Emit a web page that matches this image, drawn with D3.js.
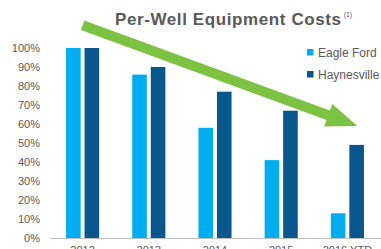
<!DOCTYPE html>
<head>
<title>Per-Well Equipment Costs</title>
  <style>
  body { margin: 0; background: #fff; }
  text { font-family: "Liberation Sans", Arial, sans-serif; }
  </style>
</head>
<body>
  <script src="https://cdn.jsdelivr.net/npm/d3@7/dist/d3.min.js"></script>
  <script>

    // data (percent of 2012 cost)
    var years = ["2012", "2013", "2014", "2015", "2016 YTD"];
    var series = ["Eagle Ford", "Haynesville"];
    var eagleFord = [100, 86, 58, 41, 13];
    var haynesville = [100, 90, 77, 67, 49];
    var yTicks = [0, 10, 20, 30, 40, 50, 60, 70, 80, 90, 100];
    var colors = ["#00aeef", "#0a578e"];

    var width = 381, height = 249;

    var svg = d3.select("body").append("svg")
                .attr("width", width)
                .attr("height", height);

    // scales
    var x0 = d3.scaleBand().domain(years).range([49.5, 380.5])
               .paddingInner(0.5).paddingOuter(0.25);
    var x1 = d3.scaleBand().domain(series).range([0, x0.bandwidth()])
               .paddingInner(0.21);
    var y = d3.scaleLinear().domain([0, 100]).range([238, 48]);

    var rows = years.map(function(yr, i) {
      return {year: yr, values: [eagleFord[i], haynesville[i]]};
    });

    // bars
    var groups = svg.selectAll(".group")
       .data(rows)
       .enter().append("g")
       .attr("class", "group")
       .attr("transform", function(d) { return "translate(" + x0(d.year) + ",0)"; });

    groups.selectAll("rect")
       .data(function(d) { return d.values.map(function(v, j) { return {s: series[j], v: v, j: j}; }); })
       .enter().append("rect")
       .attr("x", function(d) { return x1(d.s); })
       .attr("width", x1.bandwidth())
       .attr("y", function(d) { return y(d.v); })
       .attr("height", function(d) { return y(0) - y(d.v); })
       .attr("fill", function(d) { return colors[d.j]; });

    // y axis
    var yAxis = svg.append("g")
       .attr("transform", "translate(43,0)")
       .call(d3.axisLeft(y).tickValues(yTicks).tickSize(0).tickPadding(3)
               .tickFormat(function(d) { return d + "%"; }));
    yAxis.select(".domain").remove();
    yAxis.selectAll("text").style("font-size", "11px").attr("fill", "#595959")
         .style("font-family", "Liberation Sans, Arial, sans-serif");

    // x axis
    var xAxis = svg.append("g")
       .attr("transform", "translate(0," + y(0) + ")")
       .call(d3.axisBottom(x0).tickSize(0).tickPadding(8));
    xAxis.select(".domain").attr("stroke", "#bfbfbf");
    xAxis.selectAll("text").style("font-size", "11px").attr("fill", "#595959")
         .style("font-family", "Liberation Sans, Arial, sans-serif");

    // green trend arrow, anchored through the scales
    var start = [x0("2012") + x0.bandwidth() / 2, y(112)];
    var tip = [x0("2016 YTD") + x0.bandwidth() * 0.8, y(59)];
    var dx = tip[0] - start[0], dy = tip[1] - start[1];
    var len = Math.sqrt(dx * dx + dy * dy);
    var ux = dx / len, uy = dy / len, px = -uy, py = ux;
    var shaftW = 5, headW = 12, headL = 31;
    var bx = tip[0] - ux * headL, by = tip[1] - uy * headL;
    var pts = [
      [start[0] + px * shaftW, start[1] + py * shaftW],
      [bx + px * shaftW, by + py * shaftW],
      [bx + px * headW, by + py * headW],
      tip,
      [bx - px * headW, by - py * headW],
      [bx - px * shaftW, by - py * shaftW],
      [start[0] - px * shaftW, start[1] - py * shaftW]
    ];
    svg.append("path")
       .attr("d", d3.line()(pts) + "Z")
       .attr("fill", "#7dc242");

    // title
    var title = svg.append("text")
       .attr("x", 115)
       .attr("y", 25)
       .style("font-size", "17px")
       .style("font-weight", "bold")
       .style("letter-spacing", "0.6px")
       .attr("fill", "#595959")
       .text("Per-Well Equipment Costs");
    var tEnd = 115 + title.node().getComputedTextLength();
    svg.append("text")
       .attr("x", tEnd + 2)
       .attr("y", 17)
       .style("font-size", "7px")
       .attr("fill", "#595959")
       .text("(1)");

    // legend
    var legend = svg.selectAll(".legend")
       .data(series)
       .enter().append("g")
       .attr("class", "legend")
       .attr("transform", function(d, i) { return "translate(307," + (49 + i * 22) + ")"; });
    legend.append("rect")
       .attr("width", 6.5).attr("height", 6.5)
       .attr("fill", function(d, i) { return colors[i]; });
    legend.append("text")
       .attr("x", 11)
       .attr("y", 7.5)
       .style("font-size", "12px")
       .attr("fill", "#595959")
       .text(function(d) { return d; });

  </script>
</body>
